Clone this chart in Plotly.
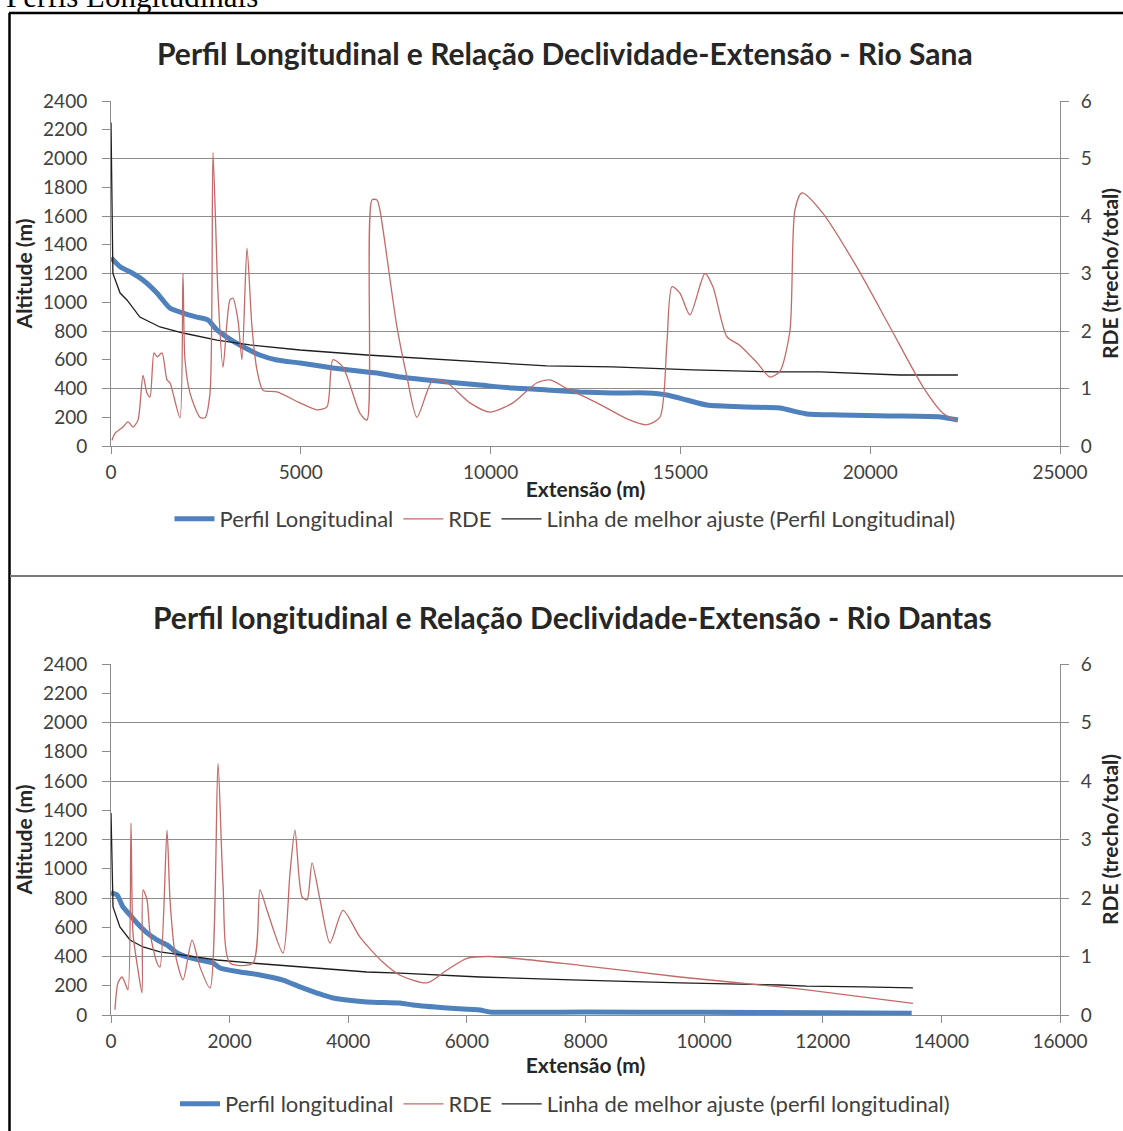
import plotly.graph_objects as go

W, H = 1123, 1131

# ---------------- Data: Rio Sana ----------------
sana_perfil_x = [0, 250, 580, 840, 1210, 1550, 1900, 2260, 2550, 2790, 3050, 3480, 3920, 4370, 4980,
                 5850, 6740, 7085, 7610, 8850, 9720, 10590, 11480, 12350, 13220, 14120, 14650, 15170,
                 15700, 16750, 17620, 18070, 18330, 19200, 20520, 21840, 22310]
sana_perfil_y = [1310, 1245, 1200, 1155, 1065, 960, 925, 897, 877, 807, 758, 690, 633, 598, 577,
                 543, 515, 505, 480, 445, 424, 403, 390, 376, 369, 369, 355, 320,
                 285, 271, 264, 237, 223, 216, 209, 202, 181]

sana_rde_x = [26, 105, 316, 448, 580, 711, 843, 948, 1027, 1133, 1212, 1343, 1475, 1554, 1633, 1817,
              1896, 1949, 2081, 2344, 2476, 2608, 2687, 2818, 2950, 3134, 3214, 3345, 3451, 3582,
              3714, 3846, 4004, 4372, 4978, 5426, 5689, 5847, 6111, 6559, 6743, 6875, 7006, 7085,
              7533, 7797, 8060, 8481, 8850, 9456, 9983, 10589, 11221, 11563, 12011, 12801, 13671,
              14118, 14461, 14645, 14777, 14987, 15251, 15646, 15857, 16226, 16568, 17016, 17358,
              17621, 17885, 18016, 18200, 18750, 19650, 20520, 21390, 21920, 22300]
sana_rde_y = [0.10, 0.22, 0.33, 0.42, 0.33, 0.45, 1.23, 0.92, 0.85, 1.62, 1.55, 1.62, 1.15, 1.10, 0.92, 0.49,
              3.00, 1.50, 0.92, 0.50, 0.49, 0.92, 5.10, 2.66, 1.37, 2.54, 2.57, 2.19, 1.50, 3.44,
              2.07, 1.32, 0.97, 0.94, 0.75, 0.63, 0.68, 1.50, 1.37, 0.57, 0.45, 4.28, 4.28, 4.10,
              2.07, 1.20, 0.50, 1.15, 1.10, 0.75, 0.59, 0.75, 1.10, 1.15, 1.00, 0.75, 0.45,
              0.37, 0.50, 1.79, 2.77, 2.66, 2.28, 3.00, 2.77, 1.90, 1.75, 1.45, 1.20,
              1.30, 2.00, 4.10, 4.40, 4.05, 3.11, 2.07, 1.03, 0.57, 0.43]

sana_fit_x = [0, 50, 240, 420, 760, 1290, 1900, 2790, 3660, 4980, 6740, 7610, 8850, 10250, 11480,
              13220, 15330, 17620, 18680, 20780, 22310]
sana_fit_y = [2250, 1200, 1064, 1016, 897, 828, 786, 737, 703, 668, 633, 619, 598, 577, 557,
              550, 529, 515, 515, 494, 494]

# ---------------- Data: Rio Dantas ----------------
dantas_perfil_x = [0, 101, 202, 320, 438, 607, 776, 944, 1113, 1281, 1500, 1720, 1838, 2175, 2512, 2900,
                   3187, 3473, 3743, 4316, 4873, 5092, 5665, 6221, 6390, 8000, 10000, 12000, 13500]
dantas_perfil_y = [834, 821, 739, 684, 629, 561, 513, 479, 424, 397, 376, 356, 321, 294, 274, 239,
                   192, 150, 116, 89, 82, 68, 48, 34, 21, 20, 18, 15, 12]

dantas_rde_x = [67, 118, 185, 236, 287, 337, 371, 455, 523, 540, 607, 658, 776, 826, 944, 995, 1079,
                1214, 1366, 1500, 1669, 1804, 1888, 2006, 2394, 2512, 2630, 2900, 3018, 3102, 3220,
                3305, 3389, 3524, 3692, 3912, 4198, 4586, 4873, 5328, 5665, 6002, 6390, 7907, 9593,
                11280, 11735, 13520]
dantas_rde_y = [0.09, 0.55, 0.65, 0.55, 0.43, 3.28, 1.40, 0.77, 0.38, 2.14, 1.97, 1.40, 0.89, 0.82, 3.16,
                1.97, 1.06, 0.60, 1.28, 0.82, 0.46, 4.30, 2.25, 0.89, 0.89, 2.14, 1.79, 1.06, 2.43, 3.16,
                2.02, 1.97, 2.60, 1.97, 1.23, 1.79, 1.33, 0.90, 0.68, 0.55, 0.77, 0.97, 1.00, 0.85,
                0.65, 0.48, 0.43, 0.20]

dantas_fit_x = [0, 34, 150, 320, 540, 826, 1214, 1787, 2343, 3187, 4316, 4873, 6221, 7907, 9593, 11280,
                11730, 12680, 13520]
dantas_fit_y = [1382, 739, 602, 513, 465, 431, 410, 376, 356, 328, 294, 287, 260, 239, 219, 205,
                198, 192, 185]

# ---------------- Labels ----------------
title_top = "Perfil Longitudinal e Relação Declividade-Extensão - Rio Sana"
title_bot = "Perfil longitudinal e Relação Declividade-Extensão - Rio Dantas"
names_top = ["Perfil Longitudinal", "RDE", "Linha de melhor ajuste (Perfil Longitudinal)"]
names_bot = ["Perfil longitudinal", "RDE", "Linha de melhor ajuste (perfil longitudinal)"]
page_heading = "Perfis Longitudinais"

FONT = "Lato"
BLUE = "#4f81bd"
RED = "#c46a68"
BLACK = "#1e1e1e"
GRID = "#8c8c8c"
TXT = "#404040"


def px_x(p):
    return p / W


def px_y(p):
    return 1 - p / H


fig = go.Figure()

# top chart traces
fig.add_trace(go.Scatter(x=sana_perfil_x, y=sana_perfil_y, mode="lines", name=names_top[0],
                         line=dict(color=BLUE, width=5, shape="spline", smoothing=0.6),
                         xaxis="x", yaxis="y", legend="legend"))
fig.add_trace(go.Scatter(x=sana_rde_x, y=sana_rde_y, mode="lines", name=names_top[1],
                         line=dict(color=RED, width=1.3, shape="spline", smoothing=0.7),
                         xaxis="x", yaxis="y2", legend="legend"))
fig.add_trace(go.Scatter(x=sana_fit_x, y=sana_fit_y, mode="lines", name=names_top[2],
                         line=dict(color=BLACK, width=1.3),
                         xaxis="x", yaxis="y", legend="legend"))

# bottom chart traces
fig.add_trace(go.Scatter(x=dantas_perfil_x, y=dantas_perfil_y, mode="lines", name=names_bot[0],
                         line=dict(color=BLUE, width=5, shape="spline", smoothing=0.6),
                         xaxis="x2", yaxis="y3", legend="legend2"))
fig.add_trace(go.Scatter(x=dantas_rde_x, y=dantas_rde_y, mode="lines", name=names_bot[1],
                         line=dict(color=RED, width=1.3, shape="spline", smoothing=0.7),
                         xaxis="x2", yaxis="y4", legend="legend2"))
fig.add_trace(go.Scatter(x=dantas_fit_x, y=dantas_fit_y, mode="lines", name=names_bot[2],
                         line=dict(color=BLACK, width=1.3),
                         xaxis="x2", yaxis="y3", legend="legend2"))

xdom = [px_x(111), px_x(1060)]
top_dom = [px_y(446), px_y(101)]
bot_dom = [px_y(1015), px_y(664)]

tickfont = dict(family=FONT, size=19, color=TXT)
axtitlefont = dict(family=FONT, size=21, color="#262626", weight="bold")

common_x = dict(showgrid=False, showline=True, linecolor=GRID, linewidth=1, ticks="outside",
                ticklen=7, tickcolor=GRID, tickfont=tickfont, zeroline=False, automargin=False,
                tickformat="d", ticklabelstandoff=2, title_font=axtitlefont, title_standoff=0)
common_yl = dict(range=[0, 2400], dtick=200, showgrid=False, showline=True, linecolor=GRID,
                 ticks="outside", ticklen=8, tickcolor=GRID, tickfont=tickfont, zeroline=False,
                 automargin=False, ticklabelstandoff=11, title_font=axtitlefont, title_standoff=4)
common_yr = dict(range=[0, 6], dtick=1, showgrid=True, gridcolor=GRID, gridwidth=1.2,
                 showline=True, linecolor=GRID, ticks="outside", ticklen=8, tickcolor=GRID,
                 tickfont=tickfont, zeroline=False, side="right", automargin=False,
                 ticklabelstandoff=8, title_font=axtitlefont, title_standoff=12)

fig.update_layout(
    width=W, height=H,
    margin=dict(l=0, r=0, t=0, b=0, autoexpand=False),
    paper_bgcolor="white", plot_bgcolor="white",
    font=dict(family=FONT, color=TXT),
    xaxis=dict(domain=xdom, anchor="y", range=[0, 25000], dtick=5000,
               title_text="Extensão (m)", **common_x),
    yaxis=dict(domain=top_dom, anchor="x", title_text="Altitude (m)", **common_yl),
    yaxis2=dict(overlaying="y", anchor="x", title_text="RDE (trecho/total)", **common_yr),
    xaxis2=dict(domain=xdom, anchor="y3", range=[0, 16000], dtick=2000,
                title_text="Extensão (m)", **common_x),
    yaxis3=dict(domain=bot_dom, anchor="x2", title_text="Altitude (m)", **common_yl),
    yaxis4=dict(overlaying="y3", anchor="x2", title_text="RDE (trecho/total)", **common_yr),
    legend=dict(orientation="h", x=px_x(565), xanchor="center", y=px_y(519), yanchor="middle",
                font=dict(family=FONT, size=22, color=TXT), itemwidth=40,
                bgcolor="rgba(0,0,0,0)"),
    legend2=dict(orientation="h", x=px_x(565), xanchor="center", y=px_y(1104), yanchor="middle",
                 font=dict(family=FONT, size=22, color=TXT), itemwidth=40,
                 bgcolor="rgba(0,0,0,0)"),
    showlegend=True,
)

annotations = [
    dict(text=title_top, x=px_x(565), y=px_y(53), xref="paper", yref="paper",
         xanchor="center", yanchor="middle", showarrow=False,
         font=dict(family=FONT, size=30, color="#262626", weight="bold")),
    dict(text=title_bot, x=px_x(572), y=px_y(617), xref="paper", yref="paper",
         xanchor="center", yanchor="middle", showarrow=False,
         font=dict(family=FONT, size=30, color="#262626", weight="bold")),
    dict(text=page_heading, x=px_x(4), y=px_y(16), xref="paper", yref="paper",
         xanchor="left", yanchor="bottom", showarrow=False,
         font=dict(family="Liberation Serif", size=31, color="black")),
]
fig.update_layout(annotations=annotations)

shapes = [
    # top border
    dict(type="line", xref="paper", yref="paper", x0=px_x(9), x1=1.01, y0=px_y(13), y1=px_y(13),
         line=dict(color="black", width=2.5)),
    # left border
    dict(type="line", xref="paper", yref="paper", x0=px_x(9.5), x1=px_x(9.5), y0=px_y(13), y1=-0.01,
         line=dict(color="black", width=2.5)),
    # divider
    dict(type="line", xref="paper", yref="paper", x0=px_x(10), x1=1.01, y0=px_y(576), y1=px_y(576),
         line=dict(color="#7a7a7a", width=2)),
]
fig.update_layout(shapes=shapes)

fig.write_html("out.html", config={"displayModeBar": False},
               post_script="document.body.style.margin='0px';")
